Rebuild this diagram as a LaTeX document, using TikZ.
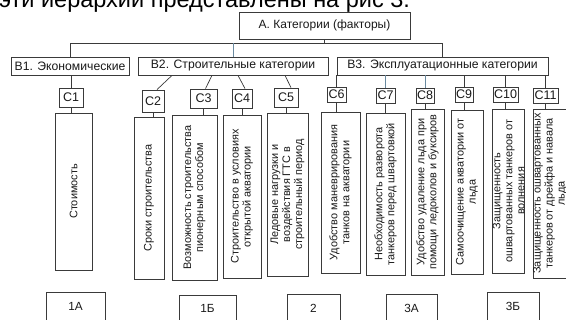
\documentclass[tikz,border=0pt]{standalone}
\usepackage{fontspec}
\setmainfont{Liberation Sans}

\definecolor{boxline}{HTML}{3A3A3A}
\definecolor{linktint}{HTML}{6A8AA0}

\begin{document}
\begin{tikzpicture}[x=1pt,y=-1pt,
    box/.style={draw=boxline, line width=0.8pt, inner sep=0pt, text=black!90},
    goal/.style={box, font=\fontsize{12}{14}\selectfont},
    level/.style={box, font=\fontsize{12.2}{14}\selectfont},
    crit/.style={box, font=\fontsize{12.5}{14}\selectfont},
    factor/.style={box, rotate=90, align=center, font=\fontsize{10.9}{12}\selectfont},
    group/.style={box, font=\fontsize{11.8}{13}\selectfont},
    link/.style={draw=boxline, line width=0.7pt}]

    \useasboundingbox (0,0) rectangle (566,320);
    \clip (0,0) rectangle (566,320);

    % line of text above
    \node[anchor=base west, inner sep=0pt, font=\fontsize{23.5}{26}\selectfont] (caption)
        at (-1,7.3) {эти иерархии представлены на рис 3.};

    % goal and three groups
    \node[goal, minimum width=171, minimum height=27] (a) at (324.5,25.5) {А. Категории (факторы)};
    \node[level, minimum width=118, minimum height=18] (b1) at (70,66) {В1. Экономические};
    \node[level, minimum width=190, minimum height=18] (b2) at (233,66) {В2. Строительные категории};
    \node[level, minimum width=211, minimum height=18] (b3) at (442.5,66) {В3. Эксплуатационные категории};

    \coordinate (bus) at (0,43);
    \draw[link] (b1.north) -- (b1.north |- bus) -- (b3.north |- bus) -- (b3.north);
    \draw[link] (a.south) -- (a.south |- bus);
    \draw[link, draw=linktint] (b2.north) -- (b2.north |- bus);

    % criteria
    \node[crit, minimum width=24, minimum height=19] (c1) at (71,97.5) {С1};
    \node[crit, minimum width=22, minimum height=22] (c2) at (153,101) {С2};
    \node[crit, minimum width=27, minimum height=19] (c3) at (203.5,98.5) {С3};
    \node[crit, minimum width=20, minimum height=19] (c4) at (242,98.5) {С4};
    \node[crit, minimum width=24, minimum height=19] (c5) at (286,97.5) {С5};
    \node[crit, minimum width=19, minimum height=15] (c6) at (336.5,94.5) {С6};
    \node[crit, minimum width=19, minimum height=15] (c7) at (385.5,95.5) {С7};
    \node[crit, minimum width=18, minimum height=15] (c8) at (425,95.5) {С8};
    \node[crit, minimum width=18, minimum height=15] (c9) at (464,94.5) {С9};
    \node[crit, minimum width=25, minimum height=15] (c10) at (505.5,94.5) {С10};
    \node[crit, minimum width=25, minimum height=15] (c11) at (545.5,95.5) {С11};

    \draw[link] (b1.south) -- (b1.south -| c1.north) -- (c1.north);
    \draw[link] ([xshift=-61pt]b2.south) -- ([xshift=4pt]c2.north);
    \draw[link] ([xshift=-21pt]b2.south) -- ([xshift=2pt]c3.north);
    \draw[link] ([xshift=5pt]b2.south) -- ([xshift=3pt]c4.north);
    \draw[link] ([xshift=52pt]b2.south) -- ([xshift=5pt]c5.north);
    \foreach \c in {c6,c9,c10,c11}
        \draw[link] (\c.north) -- (\c.north |- b3.south);
    \foreach \c in {c7,c8}
        \draw[link, draw=linktint] (\c.north) -- (\c.north |- b3.south);

    % factors, text turned upwards
    \node[factor, minimum width=157, minimum height=37] (d1) at (73.5,191.5) {Стоимость};
    \node[factor, minimum width=162, minimum height=30] (d2) at (149,198) {Сроки строительства};
    \node[factor, minimum width=165, minimum height=45] (d3) at (194.5,197.5)
        {Возможность строительства\\пионерным способом};
    \node[factor, minimum width=163, minimum height=38] (d4) at (242,196.5)
        {Строительство в условиях\\открытой акватории};
    \node[factor, minimum width=163, minimum height=41] (d5) at (287.5,194.5)
        {Ледовые нагрузки и\\воздействия ГТС в\\строительный период};
    \node[factor, minimum width=161, minimum height=39] (d6) at (340.5,192.5)
        {Удобство маневрирования\\танков на акватории};
    \node[factor, minimum width=162, minimum height=39] (d7) at (385.5,194)
        {Необходимость разворота\\танкеров перед швартовкой};
    \node[factor, minimum width=166, minimum height=33] (d8) at (427.5,192)
        {Удобство удаление льда при\\помощи ледоколов и буксиров};
    \node[factor, minimum width=164, minimum height=32] (d9) at (467,192)
        {Самоочищение акватории от\\льда};
    \node[factor, minimum width=164, minimum height=31] (d10) at (508.5,191)
        {Защищенность\\ошвартованных танкеров от\\волнения};
    \node[factor, minimum width=169, minimum height=34] (d11) at (550,193.5)
        {Защищенность ошвартованных\\танкеров от дрейфа и навала\\льда};

    \foreach \i in {1,...,11}
        \draw[link] (c\i.south) -- (c\i.south |- d\i.east);

    % groups of factors
    \node[group, minimum width=59, minimum height=29] (g1a) at (75.5,306.5) {1А};
    \node[group, minimum width=57, minimum height=27] (g1b) at (207.5,308.5) {1Б};
    \node[group, minimum width=53, minimum height=28] (g2) at (313.5,308) {2};
    \node[group, minimum width=51, minimum height=28] (g3a) at (411.5,308) {3А};
    \node[group, minimum width=52, minimum height=29] (g3b) at (513,306.5) {3Б};
\end{tikzpicture}
\end{document}
